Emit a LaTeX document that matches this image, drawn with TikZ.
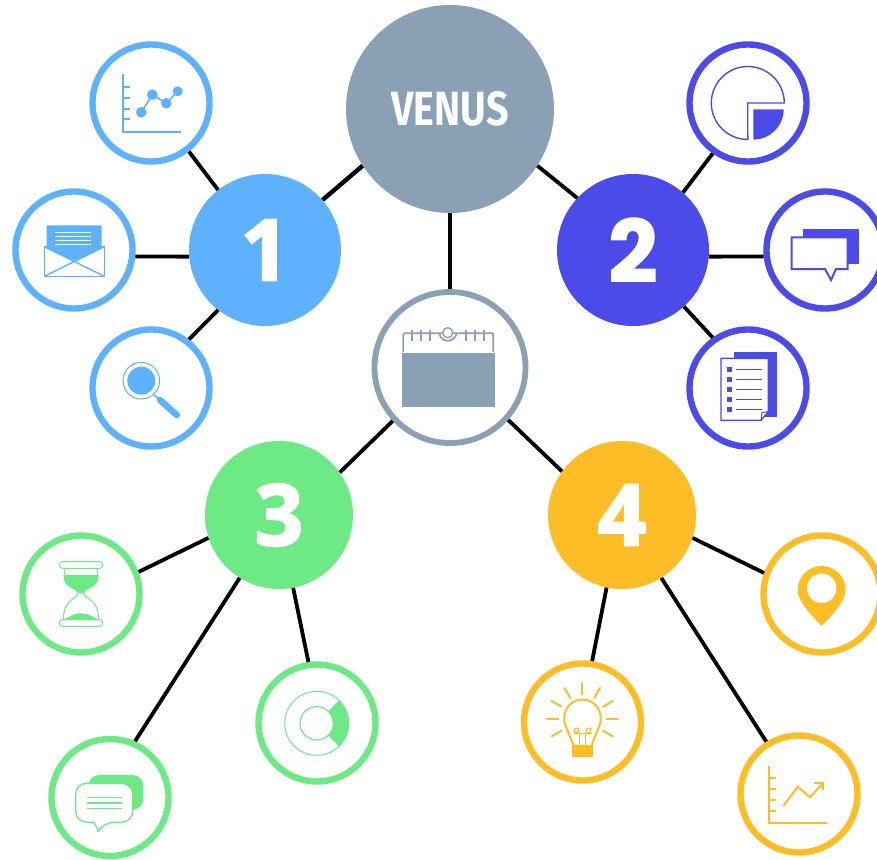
\documentclass[tikz,border=0pt]{standalone}
\usepackage{fontspec}
\newfontfamily\hubfont[FakeBold=2.6]{Open Sans}
\newfontfamily\popfont[FakeBold=1.6]{Poppins}
\newfontfamily\venusfont[FakeStretch=.82]{Fira Sans}
\definecolor{venuscol}{HTML}{8AA1B5}
\definecolor{onecol}{HTML}{5EB1FD}
\definecolor{twocol}{HTML}{4A4BE8}
\definecolor{threecol}{HTML}{6DE985}
\definecolor{fourcol}{HTML}{FDBD26}
\begin{document}
\begin{tikzpicture}[x=1pt,y=-1pt,
  hub/.style={circle,fill=#1,text=white,inner sep=0pt,minimum size=152pt,font=\hubfont\bfseries\fontsize{85}{85}\selectfont},
  sat/.style={draw=#1,fill=white,circle,line width=6.4pt,inner sep=0pt,minimum size=117pt},
  thin line/.style={line width=1pt},
  link/.style={line width=\w,black}]
\def\w{3.8pt}
\useasboundingbox (0,0) rectangle (877,859);
\clip (0,0) rectangle (877,859);
\node [hub=venuscol, minimum size=208pt, name=venus] at (450,109) {\venusfont\bfseries\fontsize{48}{48}\selectfont VENUS};
\node [sat=venuscol, line width=5.8pt, minimum size=151pt, name=cal] at (450,367.5) {};
\node [hub=onecol, name=h1] at (265,250) {1};
\node [hub=twocol, name=h2] at (633,250) {\popfont\bfseries\fontsize{86}{86}\selectfont 2};
\node [hub=threecol, minimum size=148pt, name=h3] at (279,515) {3};
\node [hub=fourcol, minimum size=148pt, name=h4] at (622,515) {4};
\node [sat=onecol, name=a1] at (151,103) {};
\node [sat=onecol, name=a2] at (74,250) {};
\node [sat=onecol, name=a3] at (151,388) {};
\node [sat=twocol, name=b1] at (748,103) {};
\node [sat=twocol, name=b2] at (825,250) {};
\node [sat=twocol, name=b3] at (748,388) {};
\node [sat=threecol, name=c1] at (81,594) {};
\node [sat=threecol, name=c2] at (110,797.5) {};
\node [sat=threecol, name=c3] at (317,723) {};
\node [sat=fourcol, name=d1] at (822,594) {};
\node [sat=fourcol, name=d2] at (799,794) {};
\node [sat=fourcol, name=d3] at (582.5,722) {};
\draw [link, line width=4.4pt] (venus.213.7) -- (h1.41.8);
\draw [link] (venus.-33.5) -- (h2.137.7);
\draw [link] (venus.south) -- (cal.north);
\draw [link] (cal.223.7) -- (h3.35.6);
\draw [link] (cal.-42.6) -- (h4.144.4);
\draw [link] (h1.128) -- (a1.-52.2);
\draw [link] (h1.185.3) -- (a2.-6.6);
\draw [link] (h1.232) -- (a3.52.8);
\draw [link] (h2.49) -- (b1.235);
\draw [link] (h2.-5.3) -- (b2.186.6);
\draw [link] (h2.-48.7) -- (b3.125.2);
\draw [link] (h3.198.9) -- (c1.21);
\draw [link] (h3.238.9) -- (c2.66.6);
\draw [link] (h3.-79.1) -- (c3.98.5);
\draw [link] (h4.-18.9) -- (d1.160);
\draw [link] (h4.-58.9) -- (d2.122.4);
\draw [link] (h4.258.4) -- (d3.81);
% calendar
\fill [venuscol] (402,352.7) rectangle (495,407);
\draw [venuscol,line width=1.8pt,rounded corners=1pt] (403.3,352) -- (403.3,333.3) -- (493.3,333.3) -- (493.3,352);
\foreach \x in {412.3,421,429.7,466.3,475,483.7}
  \draw [venuscol,line width=2pt] (\x,330) -- (\x,341);
\fill [white] (440,334.2) rectangle (456,336);
\draw [venuscol,line width=1.8pt,fill=white] (439.3,334) .. controls (442,343) and (453,343) .. (456.7,334);
\draw [venuscol,line width=1.4pt,fill=white] (447.7,332.7) circle (5);
% line chart
\draw [onecol,line width=2pt] (123,74) -- (123,131.7) -- (180.7,131.7);
\foreach \y in {87.3,98,108.7,119.3}
  \draw [onecol,line width=2pt] (123,\y) -- (129.7,\y);
\draw [onecol,line width=1.5pt] (141.3,112.3) -- (152.3,94.7) -- (166.3,103.3) -- (177.7,91.3);
\fill [onecol] (141.3,112.3) circle (5.3) (152.3,94.7) circle (5.3) (166.3,103.3) circle (5.3) (177.7,91.3) circle (5);
% envelope
\fill [onecol] (46.7,225.3) -- (101.7,225.3) -- (101.7,248.3) -- (74.5,260.7) -- (46.7,248.3) -- cycle;
\foreach \y in {232.3,236.7,240.7,244.7}
  \draw [white,line width=1pt] (55.3,\y) -- (91,\y);
\draw [onecol,line width=1.4pt] (44.3,246.7) rectangle (104.3,276.3);
\draw [onecol,line width=1.4pt] (44.3,246.7) -- (104.3,276.3) (104.3,246.7) -- (44.3,276.3);
% magnifier
\fill [onecol] (141.3,380.7) circle (14);
\draw [onecol,thin line] (141.3,380.7) circle (18.3);
\draw [onecol,line width=1.6pt] (154,395) -- (160,400);
\draw [onecol,line width=6.5pt,line cap=round] (160,400) -- (176.7,415);
% pie
\draw [twocol,line width=1.4pt] (784.3,103) arc (0:-270:36.5) -- (747.7,103) -- cycle;
\fill [twocol] (753.3,109.3) -- (783.7,109.3) arc (0:90:30.3) -- cycle;
% speech boxes
\fill [twocol] (802.7,229) rectangle (859,264);
\draw [twocol,line width=2pt,fill=white] (791.7,237.3) -- (847.7,237.3) -- (847.7,269) -- (836,269) -- (831,280) -- (825,269) -- (791.7,269) -- cycle;
% checklist
\fill [twocol] (734,352.3) rectangle (777,417);
\draw [twocol,line width=1.4pt,fill=white] (721,358.3) -- (768.3,358.3) -- (768.3,411.7) -- (761,420.3) -- (721,420.3) -- cycle;
\draw [twocol,line width=1pt] (768.3,411.7) -- (762,412.5) -- (761,420.3);
\foreach \y in {369.3,379.3,389.3,399.3,409.3} {
  \fill [twocol] (727.3,\y-2.4) rectangle (732,\y+2.4);
  \draw [twocol,thin line] (735.7,\y) -- (762,\y);
}
% hourglass
\draw [threecol,thin line] (65.5,568) -- (64,575) .. controls (63.5,589) and (78,587) .. (78,593.5) .. controls (78,599) and (63.5,598) .. (63.5,619);
\draw [threecol,thin line] (96.5,568) -- (98,575) .. controls (98.5,589) and (84,587) .. (84,593.5) .. controls (84,599) and (98.5,598) .. (98.5,619);
\fill [threecol] (64,575) -- (98.3,575) .. controls (98.5,589) and (84,587) .. (83,593.5) -- (79,593.5) .. controls (78,587) and (63.5,589) .. (64,575) -- cycle;
\fill [threecol] (65,619) .. controls (72,615) and (76,613.3) .. (81,613.3) .. controls (86,613.3) and (90,615) .. (97.3,619) -- cycle;
\draw [threecol,thin line,fill=white,rounded corners=3pt] (59.5,561.7) rectangle (102.7,568.3);
\draw [threecol,thin line,fill=white,rounded corners=3pt] (59.5,619.7) rectangle (102.7,626.3);
% chat bubbles
\fill [threecol,rounded corners=11pt] (88.3,775) rectangle (143.3,810);
\draw [threecol,line width=1.4pt,fill=white,rounded corners=11pt] (75.7,783.3) -- (132.7,783.3) -- (132.7,822.3) -- (103,822.3) [sharp corners] -- (98.3,830.7) -- (94,822.3) [rounded corners=11pt] -- (75.7,822.3) -- cycle;
\foreach \y in {797.3,803,808.7}
  \draw [threecol,line width=1.2pt] (87,\y) -- (122,\y);
% donut
\draw [threecol,thin line] (316.7,723.3) circle (32);
\draw [threecol,line width=1.2pt] (316.7,723.3) circle (16.7);
\fill [threecol] (316.7,723.3) ++(-46:16.7) -- ++(-46:15.3) arc (-46:46:32) -- ++(46:-15.3) arc (46:-46:16.7) -- cycle;
% pin
\fill [fourcol] (797.7,590) arc (180:360:24) .. controls (845.7,602) and (830,617) .. (821.7,626) .. controls (813,617) and (797.7,602) .. (797.7,590) -- cycle;
\fill [white] (821.7,588.3) circle (14.7);
% bulb
\foreach \a in {-150,-120,-90,-60,-30,0,30,150,180}
  \draw [fourcol,line width=2pt,line cap=round] (582.3,718.7) ++(\a:24) -- ++(\a:11.5);
\draw [fourcol,line width=2pt] (573.5,745) -- (566,727) .. controls (560,712) and (570,699.5) .. (582.3,699.5) .. controls (595,699.5) and (605,712) .. (599,727) -- (591.5,745);
\fill [fourcol] (572,745) rectangle (593,757);
\draw [fourcol,line width=1.2pt] (576.5,730.5) circle (2.4) (588.5,730.5) circle (2.4);
\draw [fourcol,line width=1.2pt] (573.5,733.5) -- (591.5,733.5) (579.5,733.5) -- (579.5,745) (585.5,733.5) -- (585.5,745);
% trend chart
\draw [fourcol,line width=2pt] (769,765.7) -- (769,823.3) -- (826.7,823.3);
\foreach \y in {778.3,789,800,811}
  \draw [fourcol,line width=2pt] (769,\y) -- (775.7,\y);
\draw [fourcol,line width=2pt] (783.3,806) -- (797.7,786.7) -- (810,797.3) -- (822.7,783.3);
\draw [fourcol,line width=2pt] (814,783.3) -- (822.7,783.3) -- (822.7,790);
\end{tikzpicture}
\end{document}
